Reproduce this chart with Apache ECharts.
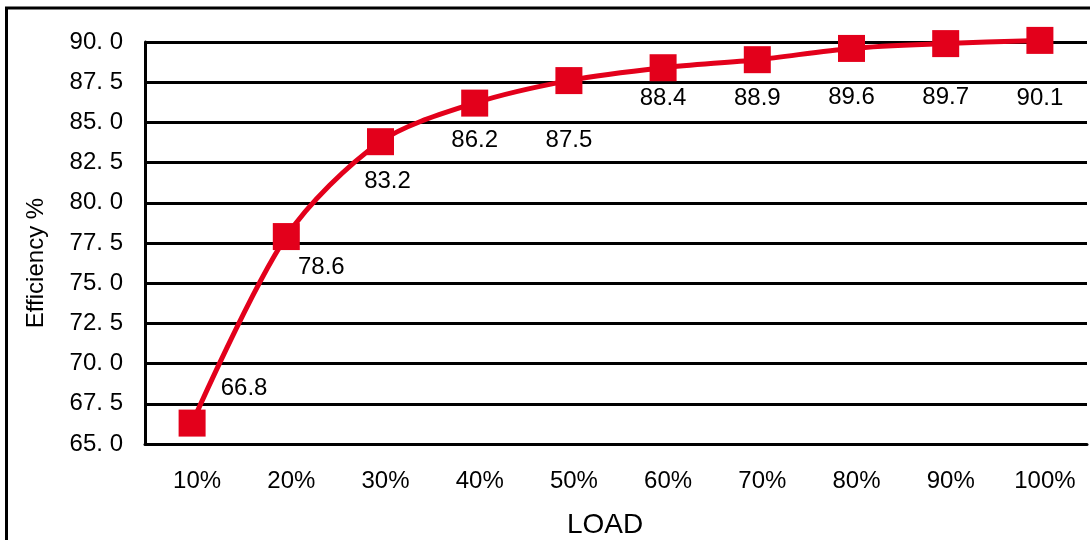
<!DOCTYPE html>
<html>
<head>
<meta charset="utf-8">
<script src="https://cdn.jsdelivr.net/npm/echarts@6/dist/echarts.min.js"></script>
<style>
  html, body { margin: 0; padding: 0; background: #fff; }
  #main { width: 1090px; height: 540px; }
</style>
</head>
<body>
<div id="main"></div>
<script>
  // categories on the x axis
  const loads = ['10%', '20%', '30%', '40%', '50%', '60%', '70%', '80%', '90%', '100%']
  // plotted efficiency (marker positions)
  const efficiency = [66.3, 77.9, 83.8, 86.2, 87.6, 88.4, 88.9, 89.6, 89.9, 90.1]
  // text printed next to each point
  const labelText = ['66.8', '78.6', '83.2', '86.2', '87.5', '88.4', '88.9', '89.6', '89.7', '90.1']
  // y axis range
  const yMin = 65
  const yMax = 90
  const yStep = 2.5

  // where each label sits relative to its marker (styling only)
  const labelOffsets = [
    [52, -35], [35, 31], [7, 40], [0, 37], [0, 60],
    [0, 31], [0, 39], [0, 49], [0, 54], [0, 58]
  ]

  const red = '#e3001b'
  const font = '"Liberation Sans", Arial, sans-serif'

  const chart = echarts.init(document.getElementById('main'))
  chart.setOption({
    animation: false,
    backgroundColor: '#fff',
    grid: { left: 145, right: 3, top: 42, bottom: 96 },
    graphic: [
      {
        type: 'rect',
        shape: { x: 6.5, y: 8, width: 1200, height: 700 },
        style: { fill: 'none', stroke: '#000', lineWidth: 3 },
        silent: true
      },
      {
        type: 'text',
        x: 36,
        y: 263,
        rotation: Math.PI / 2,
        style: {
          text: 'Efficiency %',
          font: '24px ' + font,
          fill: '#000',
          align: 'center',
          verticalAlign: 'middle'
        }
      },
      {
        type: 'text',
        x: 605,
        y: 525,
        style: {
          text: 'LOAD',
          font: '28px ' + font,
          fill: '#000',
          align: 'center',
          verticalAlign: 'middle'
        }
      }
    ],
    xAxis: {
      type: 'category',
      data: loads,
      boundaryGap: true,
      axisLine: { lineStyle: { color: '#000', width: 3 } },
      axisTick: { inside: true, length: 9, lineStyle: { color: '#000', width: 3 } },
      axisLabel: {
        color: '#000',
        fontSize: 24,
        fontFamily: font,
        margin: 25,
        padding: [0, 0, 0, 10]
      },
      splitLine: { show: false }
    },
    yAxis: {
      type: 'value',
      min: yMin,
      max: yMax,
      interval: yStep,
      axisLine: { show: true, lineStyle: { color: '#000', width: 3 } },
      axisTick: { show: false },
      axisLabel: {
        color: '#000',
        fontSize: 24,
        fontFamily: font,
        margin: 22,
        formatter: (v) => v.toFixed(1).replace('.', '. ')
      },
      splitLine: { lineStyle: { color: '#000', width: 3 } }
    },
    series: [
      {
        type: 'line',
        data: efficiency.map((v, i) => ({
          value: v,
          label: {
            show: true,
            position: 'inside',
            offset: labelOffsets[i],
            formatter: () => labelText[i]
          }
        })),
        clip: false,
        smooth: 0.3,
        symbol: 'rect',
        symbolSize: 27,
        itemStyle: { color: red },
        lineStyle: { color: red, width: 5 },
        label: {
          color: '#000',
          fontSize: 24,
          fontFamily: font
        },
        z: 5
      }
    ]
  })
</script>
</body>
</html>
